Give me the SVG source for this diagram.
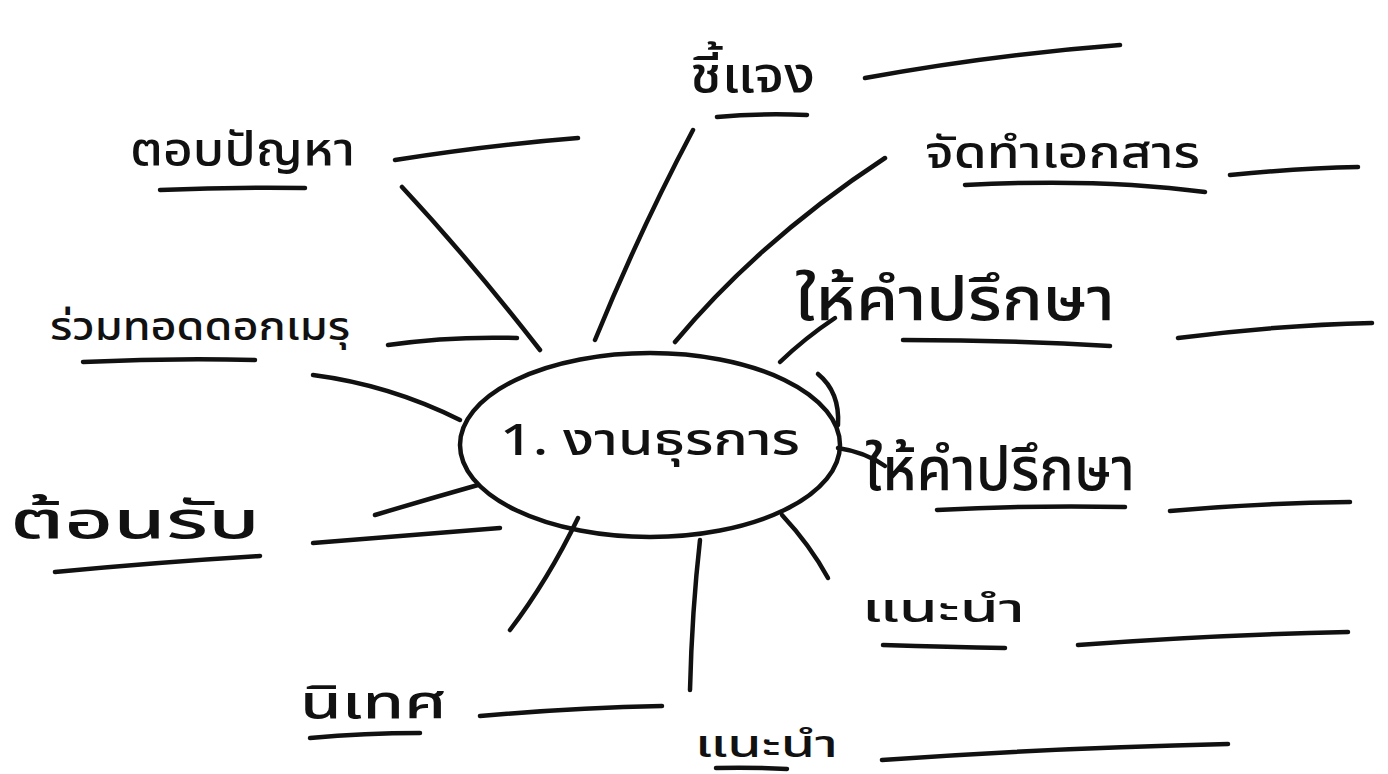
<svg xmlns="http://www.w3.org/2000/svg" width="1388" height="774" viewBox="0 0 1388 774">
<style>
.ln{fill:none;stroke:#111;stroke-width:4.5;stroke-linecap:round;stroke-linejoin:round}
.t{font-family:"Noto Sans Thai","Noto Sans","DejaVu Sans",sans-serif;fill:#111;font-weight:500}
</style>
<rect width="1388" height="774" fill="#fff"/>
<g id="connectors">
<path class="ln" d="M540 350 Q470 260 402 187"/>
<path class="ln" d="M595 340 Q640 230 693 130"/>
<path class="ln" d="M675 342 Q760 240 885 158"/>
<path class="ln" d="M780 362 Q805 338 835 318"/>
<path class="ln" d="M838 448 Q865 452 885 466"/>
<path class="ln" d="M782 515 Q810 545 828 578"/>
<path class="ln" d="M700 540 Q692 610 690 690"/>
<path class="ln" d="M578 518 Q548 580 510 630"/>
<path class="ln" d="M478 485 Q425 500 375 515"/>
<path class="ln" d="M460 420 Q390 385 313 375"/>
</g>
<g id="center">
<ellipse class="ln" cx="650" cy="445" rx="190" ry="92"/>
<path class="ln" d="M818 374 Q840 392 838 425" stroke-width="2.5"/>
<text class="t" x="500" y="455" font-size="44" textLength="300" lengthAdjust="spacingAndGlyphs">1. งานธุรการ</text>
</g>
<g id="n-top-left">
<text class="t" x="130" y="165" font-size="46" textLength="225" lengthAdjust="spacingAndGlyphs">ตอบปัญหา</text>
<path class="ln" d="M160 190 Q230 187 305 188"/>
<path class="ln" d="M395 160 Q490 145 578 138"/>
</g>
<g id="n-top">
<text class="t" x="690" y="92" font-size="50" textLength="125" lengthAdjust="spacingAndGlyphs">ชี้แจง</text>
<path class="ln" d="M717 117 Q760 113 807 115"/>
<path class="ln" d="M865 78 Q990 55 1120 45"/>
</g>
<g id="n-right-1">
<text class="t" x="925" y="168" font-size="44" textLength="275" lengthAdjust="spacingAndGlyphs">จัดทำเอกสาร</text>
<path class="ln" d="M965 185 Q1100 178 1205 192"/>
<path class="ln" d="M1230 175 Q1300 168 1358 167"/>
</g>
<g id="n-right-2">
<text class="t" x="795" y="320" font-size="60" textLength="320" lengthAdjust="spacingAndGlyphs">ให้คำปรึกษา</text>
<path class="ln" d="M903 340 Q1010 340 1110 346"/>
<path class="ln" d="M1178 338 Q1280 325 1372 323"/>
</g>
<g id="n-right-3">
<text class="t" x="865" y="490" font-size="60" textLength="270" lengthAdjust="spacingAndGlyphs">ให้คำปรึกษา</text>
<path class="ln" d="M937 510 Q1030 505 1125 507"/>
<path class="ln" d="M1170 511 Q1260 503 1350 502"/>
</g>
<g id="n-right-4">
<text class="t" x="862" y="622" font-size="40" textLength="163" lengthAdjust="spacingAndGlyphs">แนะนำ</text>
<path class="ln" d="M883 645 Q950 647 1005 648"/>
<path class="ln" d="M1078 645 Q1210 635 1348 632"/>
</g>
<g id="n-bottom">
<text class="t" x="695" y="757" font-size="38" textLength="143" lengthAdjust="spacingAndGlyphs">แนะนำ</text>
<path class="ln" d="M716 768 Q750 767 787 769"/>
<path class="ln" d="M882 760 Q1050 748 1228 744"/>
</g>
<g id="n-bottom-left">
<text class="t" x="300" y="718" font-size="46" textLength="147" lengthAdjust="spacingAndGlyphs">นิเทศ</text>
<path class="ln" d="M310 738 Q365 733 420 733"/>
<path class="ln" d="M480 716 Q570 708 662 706"/>
</g>
<g id="n-left-1">
<text class="t" x="10" y="538" font-size="52" textLength="250" lengthAdjust="spacingAndGlyphs">ต้อนรับ</text>
<path class="ln" d="M55 572 Q160 562 260 556"/>
<path class="ln" d="M313 543 Q410 535 500 528"/>
</g>
<g id="n-left-2">
<text class="t" x="50" y="340" font-size="40" textLength="300" lengthAdjust="spacingAndGlyphs">ร่วมทอดดอกเมรุ</text>
<path class="ln" d="M83 362 Q170 358 255 360"/>
<path class="ln" d="M388 345 Q450 336 517 338"/>
</g>
</svg>
